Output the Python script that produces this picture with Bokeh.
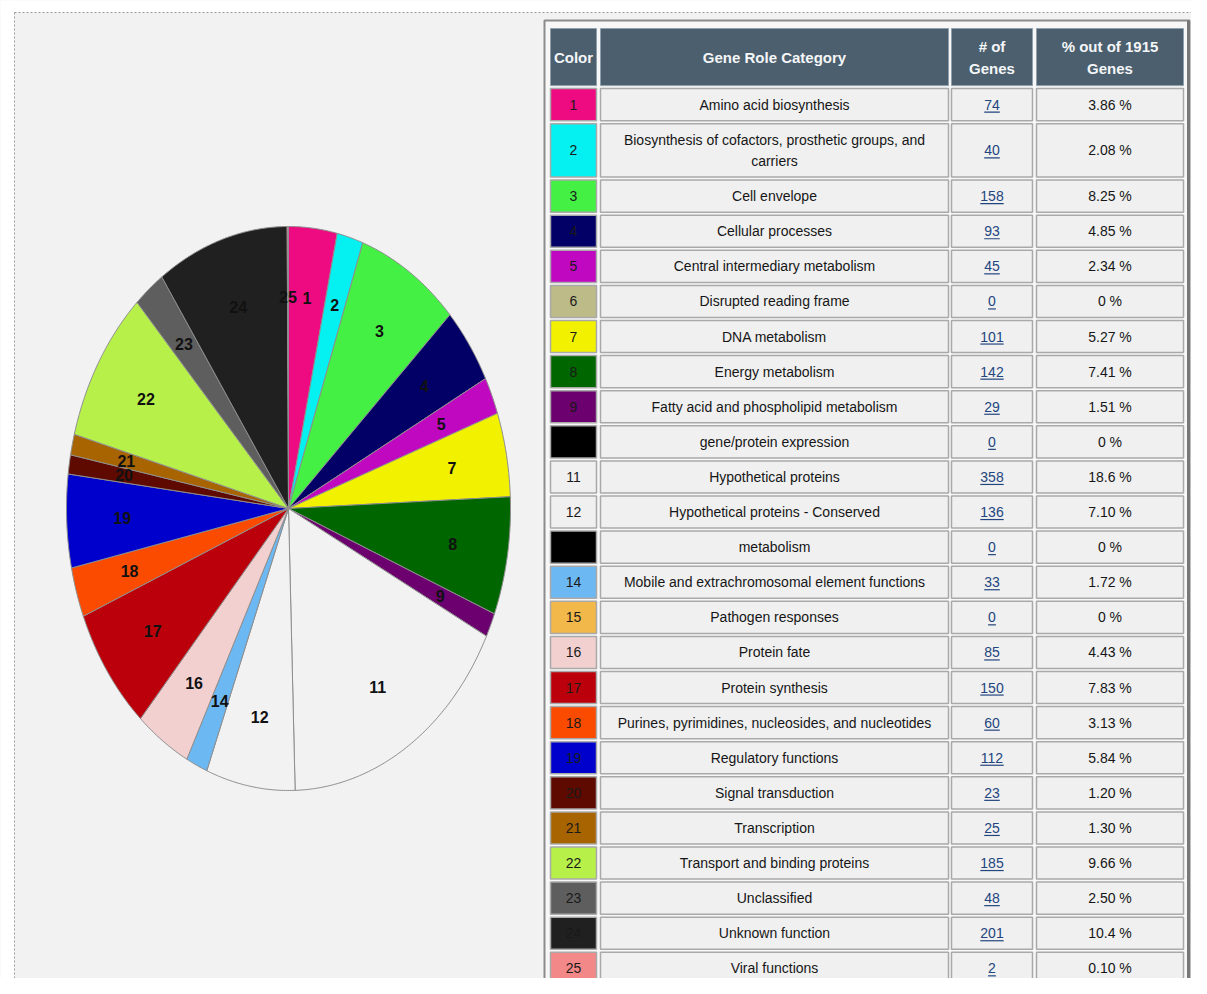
import numpy as np
from bokeh.plotting import figure
from bokeh.models import ColumnDataSource, Range1d
from bokeh.core.properties import value
from bokeh.embed import file_html
from bokeh.resources import INLINE

# ---------------- data ----------------
numbers = [str(i) for i in range(1, 26)]
categories = [
    "Amino acid biosynthesis",
    "Biosynthesis of cofactors, prosthetic groups, and|carriers",
    "Cell envelope",
    "Cellular processes",
    "Central intermediary metabolism",
    "Disrupted reading frame",
    "DNA metabolism",
    "Energy metabolism",
    "Fatty acid and phospholipid metabolism",
    "gene/protein expression",
    "Hypothetical proteins",
    "Hypothetical proteins - Conserved",
    "metabolism",
    "Mobile and extrachromosomal element functions",
    "Pathogen responses",
    "Protein fate",
    "Protein synthesis",
    "Purines, pyrimidines, nucleosides, and nucleotides",
    "Regulatory functions",
    "Signal transduction",
    "Transcription",
    "Transport and binding proteins",
    "Unclassified",
    "Unknown function",
    "Viral functions",
]
gene_counts = [74, 40, 158, 93, 45, 0, 101, 142, 29, 0, 358, 136, 0, 33, 0,
               85, 150, 60, 112, 23, 25, 185, 48, 201, 2]
percent_labels = ["3.86 %", "2.08 %", "8.25 %", "4.85 %", "2.34 %", "0 %", "5.27 %",
                  "7.41 %", "1.51 %", "0 %", "18.6 %", "7.10 %", "0 %", "1.72 %", "0 %",
                  "4.43 %", "7.83 %", "3.13 %", "5.84 %", "1.20 %", "1.30 %", "9.66 %",
                  "2.50 %", "10.4 %", "0.10 %"]
colors = ["#EE0A80", "#05F0F0", "#45F045", "#020066", "#C008C0", "#BDBB88", "#F2F200",
          "#006600", "#6B006E", "#000000", "#F2F2F2", "#F2F2F2", "#000000", "#6CB8F2",
          "#F2B84A", "#F2D0D0", "#BC000B", "#FA4B00", "#0000CC", "#5E0A00", "#A86400",
          "#B8F04A", "#5E5E5E", "#202020", "#F28888"]
color_cell_labels = ["1", "2", "3", "4", "5", "6", "7", "8", "9", "", "11", "12", "",
                     "14", "15", "16", "17", "18", "19", "20", "21", "22", "23", "24", "25"]
header_color = "Color"
header_category = "Gene Role Category"
header_count = ["# of", "Genes"]
header_pct = ["% out of 1915", "Genes"]

# ---------------- figure (pixel-like coordinates) ----------------
W, H = 1191, 978
p = figure(width=W, height=H, x_range=Range1d(0, W), y_range=Range1d(H, 0),
           output_backend="svg", toolbar_location=None,
           x_axis_location=None, y_axis_location=None, min_border=0)
p.grid.visible = False
p.outline_line_color = None
p.background_fill_color = "#F2F2F2"
p.border_fill_color = "#FFFFFF"

FONT = value("Liberation Sans")

# page border strips
p.quad(left=[0, 0], right=[14, W], top=[0, 0], bottom=[H, 12],
       fill_color="#FFFFFF", line_color=None)
p.segment(x0=[14, 14], y0=[12, 12], x1=[W, 14], y1=[12, H],
          line_color="#9A9A9A", line_width=1, line_dash="2 2")

# ---------------- pie ----------------
CX, CY, RX, RY = 288.0, 508.0, 222.0, 282.0
total = float(sum(gene_counts))
cum = np.concatenate([[0.0], np.cumsum(gene_counts)]) / total * 2 * np.pi
xs, ys, fills, lx, ly, lt = [], [], [], [], [], []
for i, c in enumerate(gene_counts):
    if c <= 0:
        continue
    a0, a1 = cum[i], cum[i + 1]
    n = max(3, int(np.degrees(a1 - a0) * 2) + 2)
    t = np.linspace(a0, a1, n)
    xs.append([CX] + list(CX + RX * np.sin(t)))
    ys.append([CY] + list(CY - RY * np.cos(t)))
    fills.append(colors[i])
    am = 0.5 * (a0 + a1)
    lx.append(CX + 0.75 * RX * np.sin(am))
    ly.append(CY - 0.75 * RY * np.cos(am))
    lt.append(numbers[i])

p.patches(xs="xs", ys="ys", fill_color="fill", line_color="#8E8E8E", line_width=1,
          source=ColumnDataSource(dict(xs=xs, ys=ys, fill=fills)))
p.text(x=lx, y=ly, text=lt, text_align="center", text_baseline="middle",
       text_font=FONT, text_font_style="bold", text_font_size="16px",
       text_color="#111111")

# ---------------- table ----------------
col_left = [550, 600, 951, 1036]
col_right = [596, 948, 1032, 1183]
col_mid = [(a + b) / 2 for a, b in zip(col_left, col_right)]

# frame
p.quad(left=[544], right=[1189], top=[20], bottom=[1020], fill_color="#F7F7F7",
       line_color="#8C8C8C", line_width=2)
p.segment(x0=[1188], y0=[20], x1=[1188], y1=[1020], line_color="#777777", line_width=3)

header_top, header_bottom = 26.5, 86.6
row_h = [35.1] * len(categories)
row_h[1] = 56.4
row_top = [header_bottom]
for h in row_h[:-1]:
    row_top.append(row_top[-1] + h)
row_bot = [t + h for t, h in zip(row_top, row_h)]
row_mid = [(t + b) / 2 for t, b in zip(row_top, row_bot)]

# header cells
p.quad(left=col_left, right=col_right, top=[header_top + 1.5] * 4,
       bottom=[header_bottom - 1.5] * 4, fill_color="#4B5F6E", line_color="#8FA0AC",
       line_width=1)
hy = (header_top + header_bottom) / 2
p.text(x=[col_mid[0], col_mid[1], col_mid[2], col_mid[2], col_mid[3], col_mid[3]],
       y=[hy, hy, hy - 11, hy + 11, hy - 11, hy + 11],
       text=[header_color, header_category, header_count[0], header_count[1],
             header_pct[0], header_pct[1]],
       text_align="center", text_baseline="middle", text_font=FONT,
       text_font_style="bold", text_font_size="15px", text_color="#F4F6F8")

# body cells
nrow = len(categories)
cell_l, cell_r, cell_t, cell_b, cell_f = [], [], [], [], []
for r in range(nrow):
    for c in range(4):
        cell_l.append(col_left[c])
        cell_r.append(col_right[c])
        cell_t.append(row_top[r] + 1.5)
        cell_b.append(row_bot[r] - 1.5)
        if c == 0 and colors[r] != "#F2F2F2":
            cell_f.append(colors[r])
        else:
            cell_f.append("#F0F0F0")
p.quad(left=cell_l, right=cell_r, top=cell_t, bottom=cell_b, fill_color=cell_f,
       line_color="#A9A9A9", line_width=1.5)

# color-column numbers
p.text(x=[col_mid[0]] * nrow, y=row_mid, text=color_cell_labels, text_align="center",
       text_baseline="middle", text_font=FONT, text_font_size="14px",
       text_color="#1A1A1A")

# category text (row 2 wraps on two lines)
cx_, cy_, ct_ = [], [], []
for r, name in enumerate(categories):
    parts = name.split("|")
    if len(parts) == 1:
        cx_.append(col_mid[1]); cy_.append(row_mid[r]); ct_.append(parts[0])
    else:
        cx_ += [col_mid[1], col_mid[1]]
        cy_ += [row_mid[r] - 10.5, row_mid[r] + 10.5]
        ct_ += parts
p.text(x=cx_, y=cy_, text=ct_, text_align="center", text_baseline="middle",
       text_font=FONT, text_font_size="14px", text_color="#161616")

# counts (links, underlined)
count_txt = [str(v) for v in gene_counts]
p.text(x=[col_mid[2]] * nrow, y=row_mid, text=count_txt, text_align="center",
       text_baseline="middle", text_font=FONT, text_font_size="14px",
       text_color="#23457E")
dw = 7.8
ux0 = [col_mid[2] - len(s) * dw / 2 for s in count_txt]
ux1 = [col_mid[2] + len(s) * dw / 2 for s in count_txt]
uy = [m + 7.5 for m in row_mid]
p.segment(x0=ux0, y0=uy, x1=ux1, y1=uy, line_color="#23457E", line_width=1.2)

# percentages
p.text(x=[col_mid[3]] * nrow, y=row_mid, text=percent_labels, text_align="center",
       text_baseline="middle", text_font=FONT, text_font_size="14px",
       text_color="#161616")

open("out.html", "w").write(file_html(p, INLINE))
